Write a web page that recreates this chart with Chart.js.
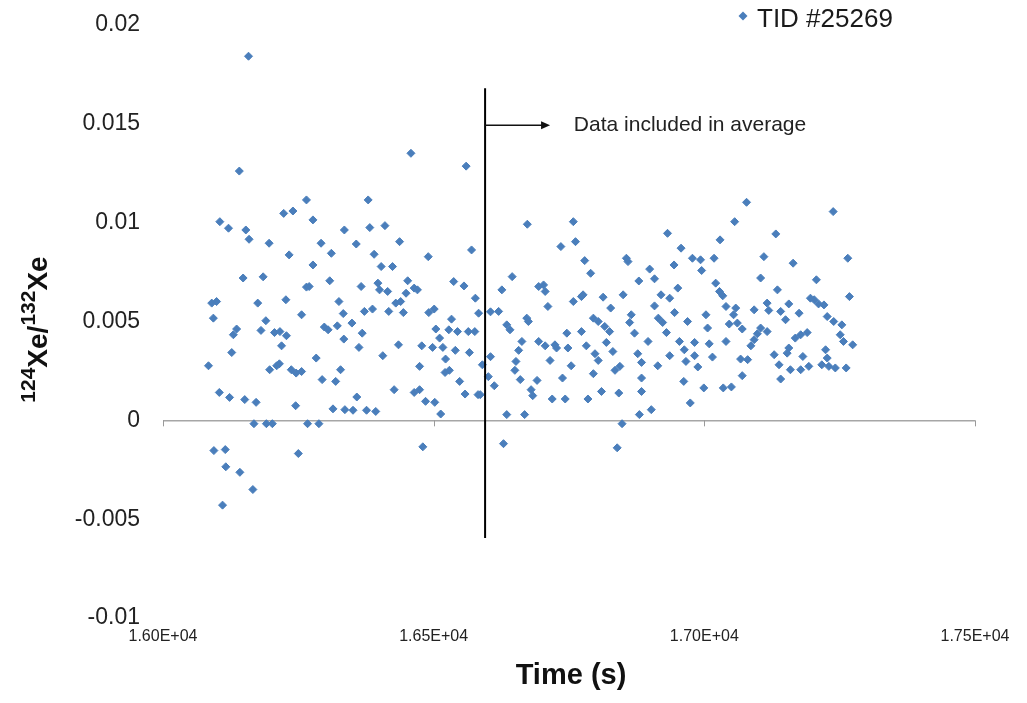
<!DOCTYPE html>
<html>
<head>
<meta charset="utf-8">
<title>124Xe/132Xe vs time</title>
<script src="https://cdn.jsdelivr.net/npm/chart.js@4.4.1/dist/chart.umd.min.js"></script>
<style>
  body { margin: 0; background: #fff; }
  #chart { display: block; }
</style>
</head>
<body>
<canvas id="chart" width="1027" height="703"></canvas>
<script>
var seriesName = 'TID #25269';

// time of each measurement (s)
var timeS = [
  16158,16141,16265,16223,16240,16105,16121,16153,16159,16277,
  16335,16196,16292,16233,16311,16277,16148,16185,16265,16270,
  16308,16090,16099,16175,16227,16325,16093,16256,16333,16190,
  16181,16136,16130,16206,16216,16228,16298,16305,16322,16334,
  16219,16127,16283,16084,16197,16210,16215,16237,16246,16256,
  16328,16294,16319,16104,16123,16151,16172,16245,16314,16336,
  16168,16191,16202,16267,16288,16094,16115,16250,16116,16142,
  16166,16110,
  16458,16560,16379,16382,16410,16357,16437,16390,16490,16570,
  16403,16424,16366,16397,16400,16415,16452,16449,16464,16470,
  16537,16556,16577,16430,16439,16372,16387,16417,16444,16491,
  16501,16583,16349,16533,16504,16528,16544,16564,16576,16368,
  16511,16435,16362,16478,16498,16517,16540,16566,16406,16522,
  16474,16590,16521,16529,16548,16427,16464,16474,16558,16582,
  16586,16358,16485,16502,16351,16376,16393,16513,16480,16605,
  16605,16601,16612,
  16673,16758,16735,16762,16779,16856,16859,16645,16790,16626,
  16694,16703,16706,16879,16758,16773,16776,16813,16850,16711,
  16827,16620,16672,16675,16795,16804,16865,16862,16635,16641,
  16816,16825,16773,16871,16746,16663,16694,16706,16724,16727,
  16748,16819,16782,16657,16831,16798,16877,16804,16715,16652,
  16754,16844,16835,16884,16650,16795,16660,16738,16884,16691,
  16680,16683,16810,16842,16884,16719,16743,16785,16635,16668,
  16880,16848,16629,16839,
  17078,17056,17132,16932,17029,16957,16978,16993,17018,17110,
  16944,16995,16899,17164,17104,16908,16951,17021,17028,17034,
  17135,16920,16936,16908,17040,17058,17092,17116,17119,17156,
  17141,16945,17003,17054,16915,16923,16969,17150,17046,17061,
  17070,17006,17104,17116,16930,17098,17092,16896,16954,16982,
  17009,17040,17086,16963,17156,16936,16982,17015,17129,17153,
  16966,16988,16914,17067,17080,17138,17159,17070,17141,16962,
  16999,17035,17050,16974,16902,
  17238,17265,17207,17268,17196,17203,17211,17221,17175,17227,
  17239,17254,17190,17178,17168,17251,17257,17274,17224,17182,
  17227,17178,17193,17217,17230,17242,17262
];

// 124Xe/132Xe ratio for each measurement
var ratio = [
  0.01842,0.01261,0.01115,0.01047,0.01059,0.01005,0.00972,0.00963,0.00916,0.01014,
  0.00963,0.00896,0.00896,0.00837,0.00845,0.00786,0.00720,0.00726,0.00674,0.00677,
  0.00706,0.00593,0.00601,0.00593,0.00610,0.00601,0.00517,0.00534,0.00540,0.00504,
  0.00455,0.00462,0.00433,0.00444,0.00449,0.00428,0.00472,0.00458,0.00478,0.00411,
  0.00377,0.00343,0.00315,0.00276,0.00256,0.00276,0.00286,0.00256,0.00239,0.00247,
  0.00256,0.00206,0.00197,0.00141,0.00116,0.00105,0.00091,0.00074,0.00058,0.00054,
  -0.00017,-0.00017,-0.00017,-0.00017,-0.00017,-0.00153,-0.00148,-0.00168,-0.00235,-0.00263,
  -0.00350,-0.00429,
  0.01351,0.01286,0.01115,0.00975,0.00985,0.00892,0.00904,0.00840,0.00828,0.00862,
  0.00778,0.00778,0.00677,0.00694,0.00660,0.00652,0.00706,0.00643,0.00669,0.00660,
  0.00702,0.00680,0.00618,0.00593,0.00601,0.00551,0.00563,0.00551,0.00545,0.00545,
  0.00563,0.00542,0.00492,0.00512,0.00462,0.00458,0.00449,0.00449,0.00449,0.00441,
  0.00416,0.00382,0.00369,0.00377,0.00369,0.00369,0.00354,0.00343,0.00327,0.00310,
  0.00273,0.00281,0.00242,0.00253,0.00197,0.00155,0.00141,0.00155,0.00133,0.00130,
  0.00130,0.00118,0.00096,0.00091,0.00051,0.00051,0.00045,0.00032,-0.00134,0.00549,
  0.00322,0.00221,0.00175,
  0.00992,0.01005,0.00879,0.00904,0.00808,0.00820,0.00803,0.00727,0.00744,0.00660,
  0.00677,0.00685,0.00652,0.00705,0.00601,0.00626,0.00635,0.00623,0.00635,0.00576,
  0.00568,0.00551,0.00517,0.00500,0.00517,0.00500,0.00534,0.00495,0.00483,0.00458,
  0.00475,0.00449,0.00449,0.00441,0.00441,0.00399,0.00399,0.00377,0.00382,0.00366,
  0.00366,0.00394,0.00377,0.00354,0.00348,0.00337,0.00337,0.00303,0.00303,0.00298,
  0.00276,0.00273,0.00253,0.00293,0.00253,0.00236,0.00206,0.00214,0.00214,0.00202,
  0.00155,0.00125,0.00146,0.00138,0.00146,0.00108,0.00108,0.00108,0.00029,0.00029,
  0.00029,-0.00017,-0.00118,-0.00139,
  0.01103,0.01005,0.00943,0.00946,0.00913,0.00871,0.00820,0.00812,0.00820,0.00828,
  0.00786,0.00758,0.00765,0.00795,0.00720,0.00716,0.00669,0.00694,0.00652,0.00630,
  0.00660,0.00635,0.00618,0.00579,0.00576,0.00568,0.00559,0.00593,0.00556,0.00589,
  0.00551,0.00545,0.00534,0.00534,0.00517,0.00495,0.00500,0.00509,0.00487,0.00492,
  0.00462,0.00467,0.00467,0.00449,0.00444,0.00438,0.00408,0.00399,0.00399,0.00394,
  0.00387,0.00399,0.00377,0.00357,0.00366,0.00327,0.00327,0.00320,0.00332,0.00340,
  0.00298,0.00270,0.00276,0.00310,0.00307,0.00281,0.00256,0.00226,0.00209,0.00197,
  0.00164,0.00164,0.00169,0.00088,0.00054,
  0.01056,0.00820,0.00711,0.00626,0.00618,0.00610,0.00589,0.00584,0.00542,0.00525,
  0.00500,0.00483,0.00444,0.00433,0.00416,0.00433,0.00399,0.00382,0.00357,0.00323,
  0.00315,0.00256,0.00273,0.00281,0.00273,0.00265,0.00265
];

var xTicks = [16000, 16500, 17000, 17500];
var yTicks = [-0.01, -0.005, 0, 0.005, 0.01, 0.015, 0.02];

// cut-off line and note
var cutTime = 16595, cutTop = 0.0168, cutBottom = -0.00595;
var arrowEnd = 16715, arrowLevel = 0.01493;
var noteTime = 16759, noteText = 'Data included in average';

var FONT = "'Liberation Sans', Arial, sans-serif";
var BLUE = '#4A7EBB';

var points = [];
for (var i = 0; i < timeS.length; i++) {
  points.push({ x: timeS[i], y: ratio[i] });
}

function drawYTitle(ctx, cx, cy) {
  var parts = [['124', true], ['Xe/', false], ['132', true], ['Xe', false]];
  var big = 'bold 28px ' + FONT, small = 'bold 21px ' + FONT;
  var total = 0;
  parts.forEach(function(p) {
    ctx.font = p[1] ? small : big;
    p.push(ctx.measureText(p[0]).width);
    total += p[2];
  });
  ctx.save();
  ctx.translate(cx, cy);
  ctx.rotate(-Math.PI / 2);
  ctx.fillStyle = '#111';
  ctx.textAlign = 'left';
  ctx.textBaseline = 'alphabetic';
  var pos = -total / 2;
  parts.forEach(function(p) {
    ctx.font = p[1] ? small : big;
    ctx.fillText(p[0], pos, p[1] ? -12 : 0);
    pos += p[2];
  });
  ctx.restore();
}

var decorations = {
  id: 'decorations',
  afterDatasetsDraw: function(chart) {
    var ctx = chart.ctx, x = chart.scales.x, y = chart.scales.y, area = chart.chartArea;
    ctx.save();

    // tick marks under the zero line
    var y0 = y.getPixelForValue(0);
    ctx.strokeStyle = '#9a9a9a';
    ctx.lineWidth = 1;
    xTicks.forEach(function(v) {
      var px = Math.round(x.getPixelForValue(v)) + 0.5;
      ctx.beginPath();
      ctx.moveTo(px, y0);
      ctx.lineTo(px, y0 + 6);
      ctx.stroke();
    });

    // vertical cut line
    var cx = x.getPixelForValue(cutTime);
    ctx.strokeStyle = '#000';
    ctx.lineWidth = 2;
    ctx.beginPath();
    ctx.moveTo(cx, y.getPixelForValue(cutTop));
    ctx.lineTo(cx, y.getPixelForValue(cutBottom));
    ctx.stroke();

    // arrow
    var ay = y.getPixelForValue(arrowLevel), ax = x.getPixelForValue(arrowEnd);
    ctx.strokeStyle = '#111';
    ctx.lineWidth = 1.5;
    ctx.beginPath();
    ctx.moveTo(cx, ay);
    ctx.lineTo(ax - 6, ay);
    ctx.stroke();
    ctx.fillStyle = '#111';
    ctx.beginPath();
    ctx.moveTo(ax, ay);
    ctx.lineTo(ax - 9, ay - 4);
    ctx.lineTo(ax - 9, ay + 4);
    ctx.closePath();
    ctx.fill();

    // note
    ctx.font = '21px ' + FONT;
    ctx.fillStyle = '#222';
    ctx.textAlign = 'left';
    ctx.textBaseline = 'middle';
    ctx.fillText(noteText, x.getPixelForValue(noteTime), ay);

    // legend
    var lx = area.right - 232, ly = area.top - 9;
    ctx.fillStyle = BLUE;
    ctx.beginPath();
    ctx.moveTo(lx, ly - 4.5);
    ctx.lineTo(lx + 4.5, ly);
    ctx.lineTo(lx, ly + 4.5);
    ctx.lineTo(lx - 4.5, ly);
    ctx.closePath();
    ctx.fill();
    ctx.font = '26px ' + FONT;
    ctx.fillStyle = '#1a1a1a';
    ctx.fillText(chart.data.datasets[0].label, lx + 14, ly + 4);

    // axis titles
    ctx.font = 'bold 29px ' + FONT;
    ctx.textAlign = 'center';
    ctx.fillStyle = '#111';
    ctx.fillText('Time (s)', (area.left + area.right) / 2 + 2, area.bottom + 58);
    drawYTitle(ctx, 47, (area.top + area.bottom) / 2 + 8);

    ctx.restore();
  }
};

Chart.defaults.font.family = FONT;

new Chart(document.getElementById('chart'), {
  type: 'scatter',
  data: {
    datasets: [{
      label: seriesName,
      data: points,
      pointStyle: 'rectRot',
      pointRadius: 4,
      backgroundColor: BLUE,
      borderColor: BLUE,
      borderWidth: 1
    }]
  },
  options: {
    responsive: false,
    devicePixelRatio: 1,
    animation: false,
    layout: { padding: { left: 0, right: 52, top: 25, bottom: 0 } },
    plugins: { legend: { display: false }, tooltip: { enabled: false } },
    scales: {
      x: {
        type: 'linear',
        min: 16000,
        max: 17500,
        afterBuildTicks: function(scale) {
          scale.ticks = xTicks.map(function(v) { return { value: v }; });
        },
        afterFit: function(scale) { scale.height = 85; },
        grid: { display: false, drawTicks: false },
        border: { display: false },
        ticks: {
          padding: 9,
          color: '#222',
          font: { size: 16 },
          maxRotation: 0,
          callback: function(v) { return (v / 10000).toFixed(2) + 'E+04'; }
        }
      },
      y: {
        min: -0.01,
        max: 0.02,
        afterBuildTicks: function(scale) {
          scale.ticks = yTicks.map(function(v) { return { value: v }; });
        },
        afterFit: function(scale) {
          scale.width = 163;
          scale.paddingTop = 0;
          scale.paddingBottom = 0;
        },
        grid: {
          drawTicks: false,
          lineWidth: 1.5,
          color: function(c) { return c.tick && c.tick.value === 0 ? '#a6a6a6' : 'rgba(0,0,0,0)'; }
        },
        border: { display: false },
        ticks: {
          padding: 23,
          color: '#222',
          font: { size: 23 },
          callback: function(v) { return String(+v.toFixed(3)); }
        }
      }
    }
  },
  plugins: [decorations]
});
</script>
</body>
</html>
